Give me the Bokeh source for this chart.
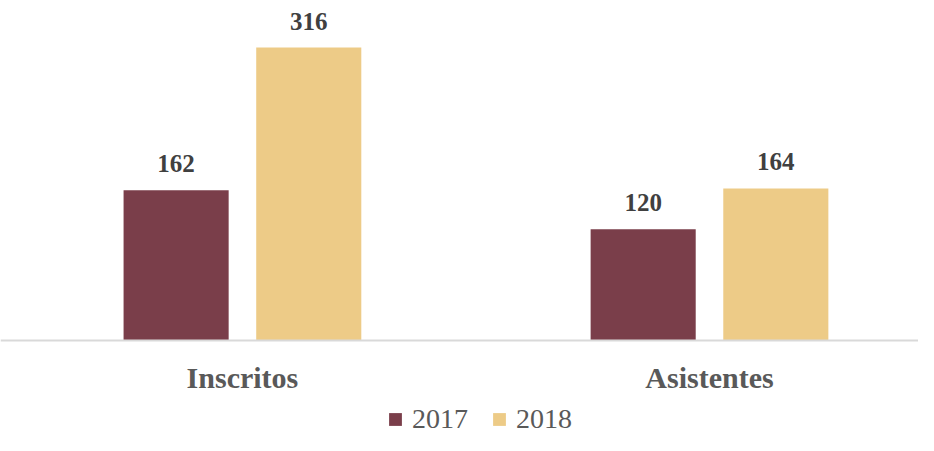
from bokeh.plotting import figure
from bokeh.models import ColumnDataSource, Range1d, Span, Legend, LegendItem
from bokeh.transform import dodge
from bokeh.core.properties import value
from bokeh.embed import file_html
from bokeh.resources import INLINE

categories = ["Inscritos", "Asistentes"]
years = ["2017", "2018"]
v2017 = [162, 120]
v2018 = [316, 164]

colors = {"2017": "#7A3E4A", "2018": "#EDCB87"}

src = ColumnDataSource(dict(
    x=[i + 0.5 for i in range(len(categories))],
    cat=categories,
    v2017=v2017,
    v2018=v2018,
    t2017=[str(v) for v in v2017],
    t2018=[str(v) for v in v2018],
))

W, H = 918, 435
p = figure(width=W, height=H, output_backend="svg", toolbar_location=None,
           x_range=Range1d(-0.018, 1.9475), y_range=Range1d(-102.5, 366.8),
           min_border=0, min_border_left=0, min_border_right=0,
           min_border_top=0, min_border_bottom=0)
p.xaxis.visible = False
p.yaxis.visible = False
p.grid.visible = False
p.outline_line_color = None
p.background_fill_color = "white"

FONT = "Liberation Serif"
font = value(FONT)
off = 0.142
bw = 0.225

r1 = p.vbar(x=dodge("x", -off, range=p.x_range), top="v2017", bottom=0, width=bw,
            source=src, fill_color=colors["2017"], line_color=None)
r2 = p.vbar(x=dodge("x", off, range=p.x_range), top="v2018", bottom=0, width=bw,
            source=src, fill_color=colors["2018"], line_color=None)

p.add_layout(Span(location=0, dimension="width", line_color="#D9D9D9", line_width=2))

for key, o in (("2017", -off), ("2018", off)):
    p.text(x=dodge("x", o, range=p.x_range), y="v" + key, text="t" + key, source=src,
           y_offset=-18, text_align="center", text_baseline="bottom",
           text_font=font, text_font_style="bold", text_font_size="25px",
           text_color="#404040")

p.text(x="x", y=0, text="cat", source=src, y_offset=37,
       text_align="center", text_baseline="middle",
       text_font=font, text_font_style="bold", text_font_size="30px",
       text_color="#595959")

legend = Legend(items=[LegendItem(label=years[0], renderers=[r1]),
                       LegendItem(label=years[1], renderers=[r2])],
                orientation="horizontal", location=(387, 0),
                glyph_width=16, glyph_height=16, label_standoff=9, spacing=23,
                padding=0, margin=0, border_line_color=None,
                background_fill_alpha=0,
                label_text_font=FONT, label_text_font_size="28px",
                label_text_color="#595959")
p.add_layout(legend)

open("out.html", "w").write(file_html(p, INLINE))
